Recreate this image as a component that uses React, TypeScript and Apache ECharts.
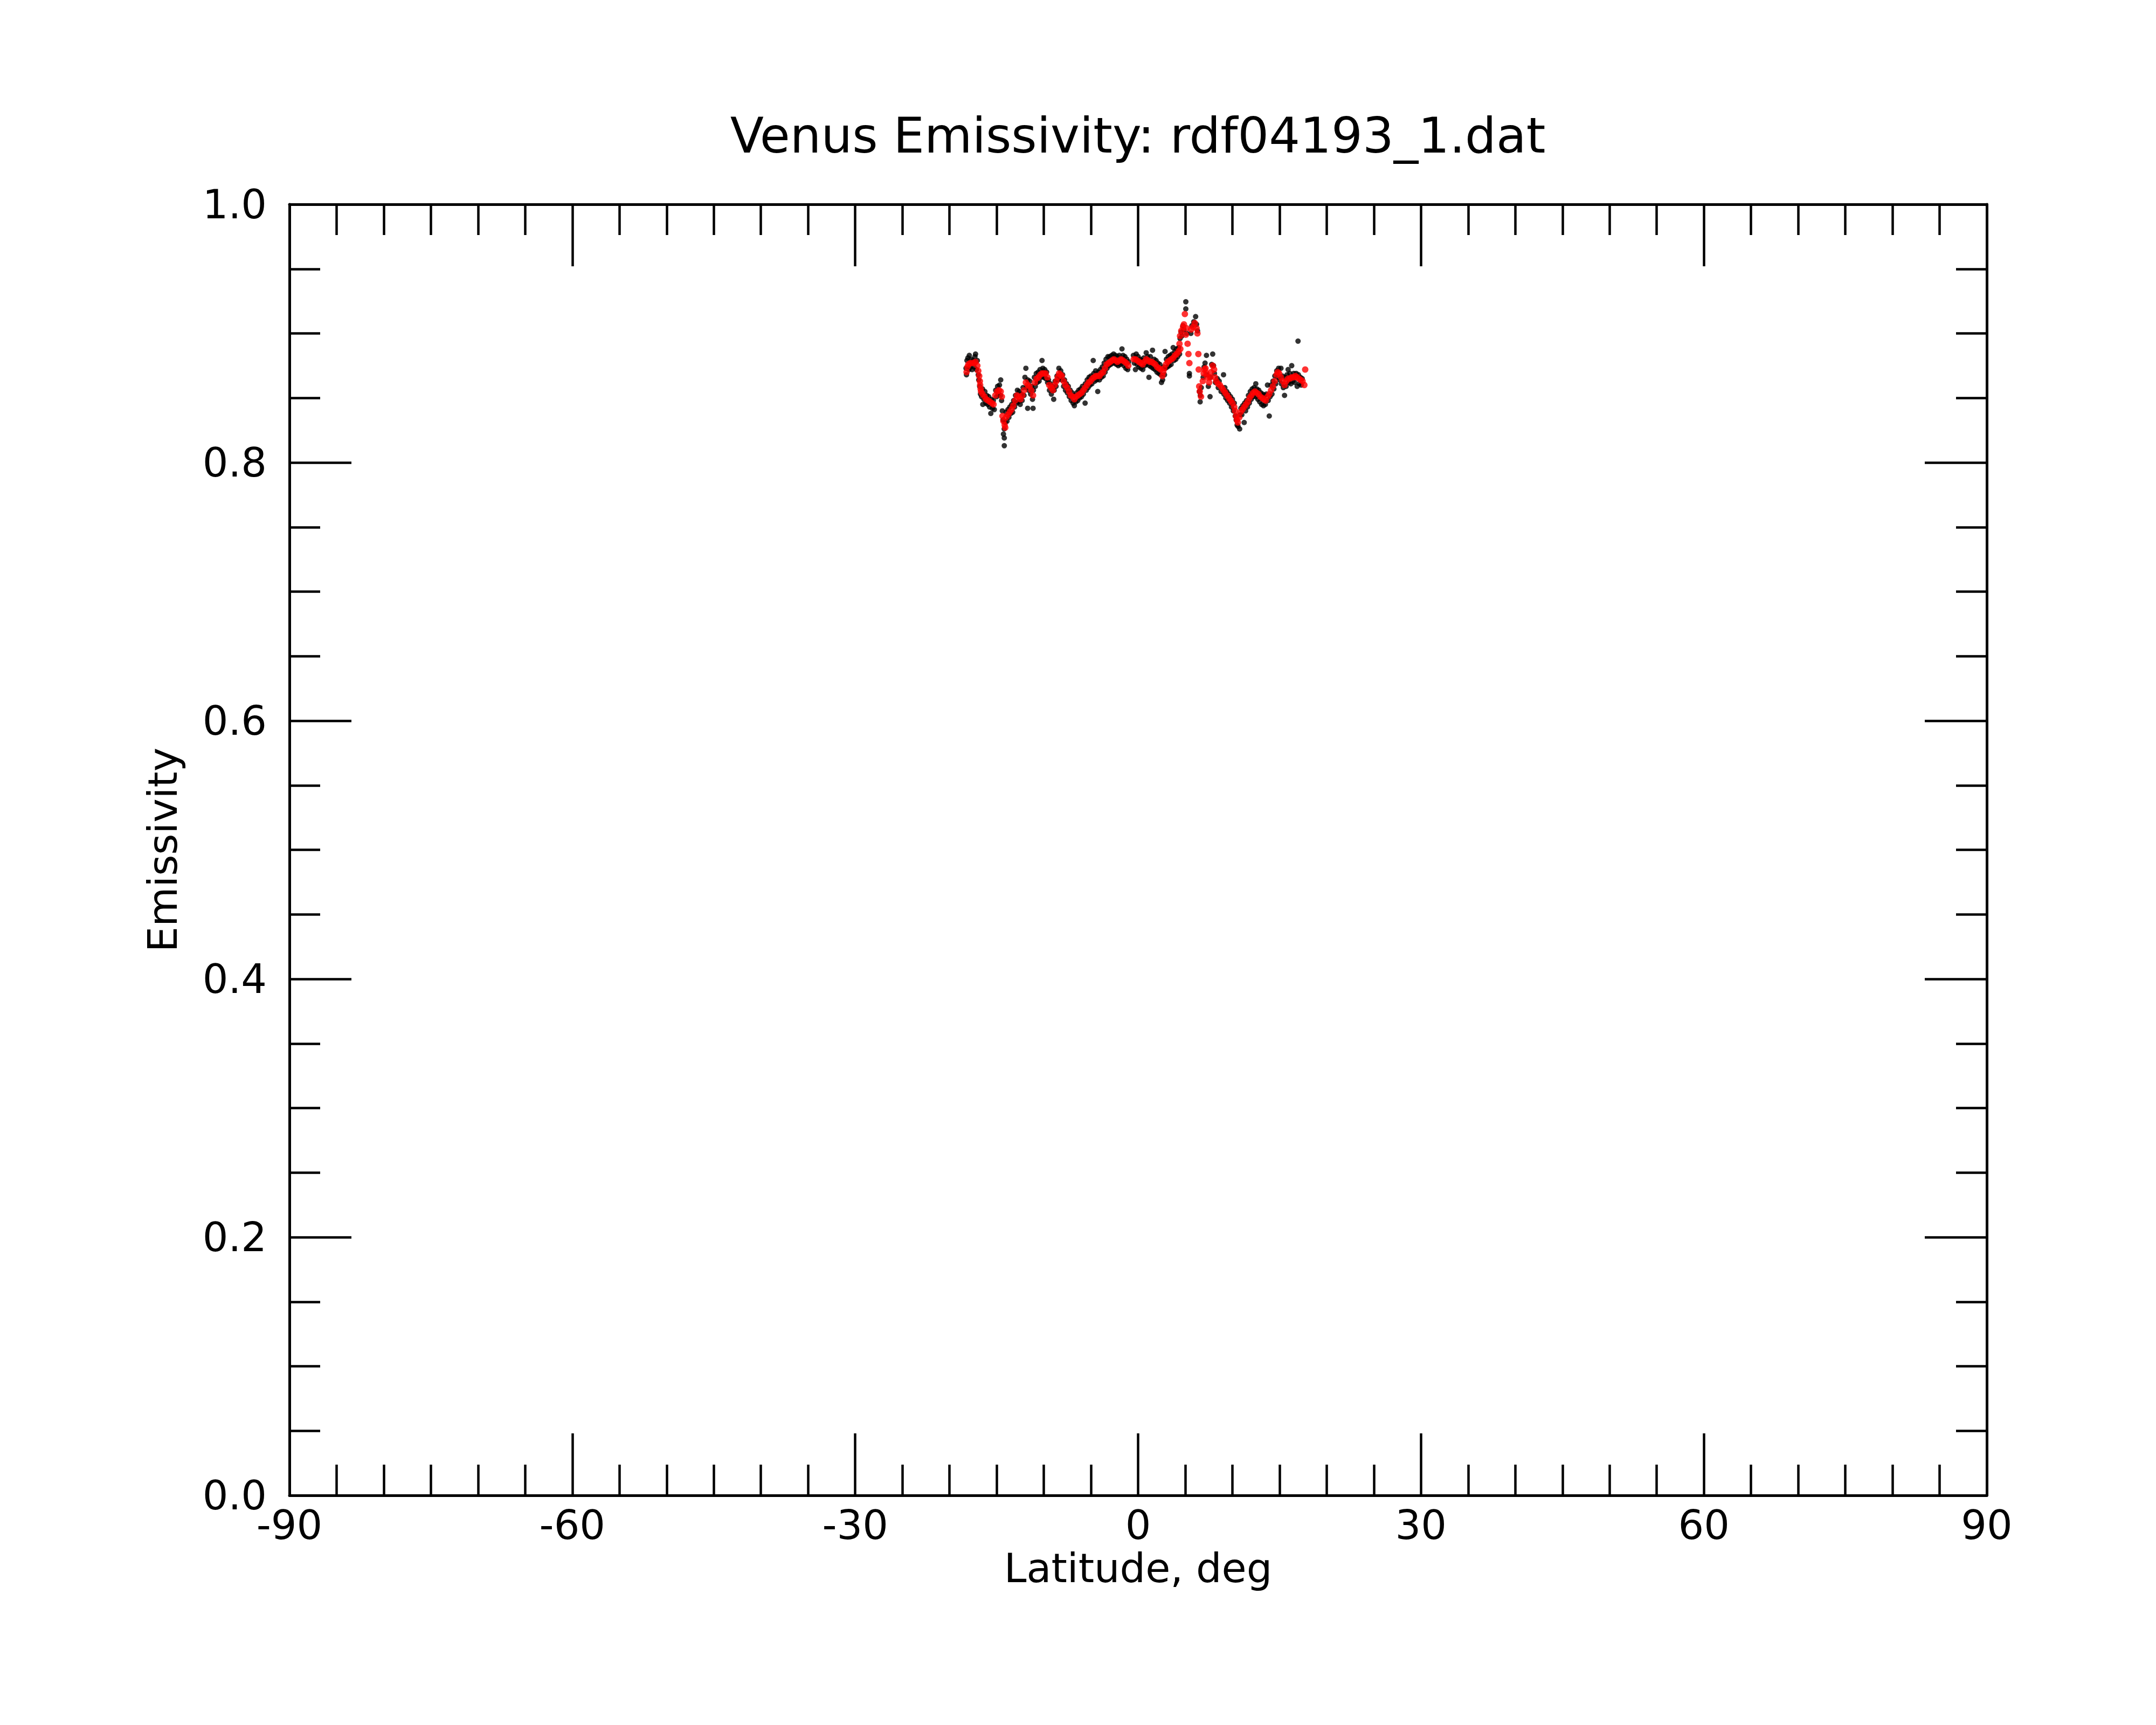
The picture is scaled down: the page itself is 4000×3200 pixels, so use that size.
import React, { useEffect, useRef } from "react";
import * as echarts from "echarts";

const titleText = "Venus Emissivity: rdf04193_1.dat";
const xName = "Latitude, deg";
const yName = "Emissivity";
const xTicks = [-90, -60, -30, 0, 30, 60, 90];
const yTicks = [0.0, 0.2, 0.4, 0.6, 0.8, 1.0];

// raw samples (black)
const rawPoints: [number, number][] = [
  [-18.25,0.873],[-18.2,0.868],[-18.15,0.879],[-18.05,0.881],[-17.95,0.872],[-17.9,0.883],[-17.8,0.874],[-17.7,0.880],[-17.6,0.872],[-17.5,0.879],[-17.4,0.874],[-17.3,0.882],[-17.24,0.884],[-17.15,0.872],[-17.05,0.879],[-16.95,0.868],[-16.9,0.864],[-16.8,0.859],[-16.72,0.853],
  [-16.6,0.851],[-16.5,0.857],[-16.47,0.845],[-16.35,0.849],[-16.25,0.855],[-16.15,0.846],[-16.05,0.852],[-15.95,0.845],[-15.85,0.851],[-15.75,0.843],[-15.62,0.838],[-15.55,0.849],[-15.45,0.842],[-15.35,0.848],[-15.25,0.841],
  [-15.1,0.856],[-15.0,0.851],[-14.9,0.859],[-14.8,0.853],[-14.7,0.860],[-14.6,0.852],[-14.57,0.864],[-14.48,0.848],
  [-14.4,0.840],[-14.33,0.833],[-14.28,0.822],[-14.2,0.826],[-14.19,0.819],[-14.19,0.813],[-14.1,0.831],[-14.0,0.839],[-13.9,0.832],[-13.8,0.841],[-13.7,0.835],[-13.6,0.843],[-13.5,0.838],[-13.4,0.845],[-13.3,0.839],[-13.2,0.848],[-13.1,0.843],[-13.0,0.852],[-12.9,0.846],[-12.8,0.856],[-12.7,0.847],[-12.6,0.855],[-12.5,0.845],[-12.4,0.853],[-12.3,0.848],[-12.2,0.858],[-12.1,0.852],[-12.0,0.866],[-11.9,0.873],[-11.85,0.858],[-11.71,0.842],[-11.7,0.864],[-11.6,0.856],[-11.5,0.863],[-11.4,0.853],[-11.3,0.859],[-11.2,0.849],[-11.14,0.842],[-11.1,0.856],[-11.0,0.866],[-10.9,0.859],[-10.8,0.869],[-10.7,0.862],[-10.6,0.870],[-10.5,0.863],[-10.4,0.872],[-10.3,0.866],[-10.19,0.879],[-10.1,0.873],[-10.0,0.866],[-9.9,0.872],[-9.8,0.865],[-9.7,0.870],[-9.6,0.862],[-9.5,0.864],[-9.4,0.856],[-9.3,0.861],[-9.2,0.853],[-9.1,0.859],[-8.95,0.849],[-8.9,0.856],[-8.8,0.863],[-8.7,0.859],[-8.6,0.867],[-8.5,0.864],[-8.4,0.873],[-8.3,0.866],[-8.2,0.871],[-8.1,0.864],[-8.0,0.868],[-7.9,0.859],[-7.8,0.864],[-7.7,0.856],[-7.6,0.861],[-7.5,0.854],[-7.4,0.859],[-7.3,0.851],[-7.2,0.856],[-7.1,0.848],[-7.0,0.854],[-6.9,0.846],[-6.8,0.852],[-6.76,0.844],[-6.6,0.847],[-6.5,0.854],[-6.4,0.848],[-6.3,0.856],[-6.2,0.850],[-6.1,0.857],[-6.0,0.851],[-5.9,0.859],[-5.8,0.853],[-5.62,0.846],[-5.6,0.861],[-5.5,0.856],[-5.4,0.864],[-5.3,0.858],[-5.2,0.866],[-5.1,0.860],[-5.0,0.867],[-4.9,0.861],[-4.76,0.879],[-4.7,0.869],[-4.6,0.863],[-4.5,0.871],[-4.4,0.864],[-4.28,0.855],[-4.2,0.870],[-4.1,0.864],[-4.0,0.872],[-3.9,0.866],[-3.8,0.874],[-3.7,0.867],[-3.6,0.877],[-3.5,0.870],[-3.4,0.880],[-3.3,0.873],[-3.2,0.882],[-3.1,0.875],[-3.0,0.882],[-2.9,0.876],[-2.8,0.883],[-2.7,0.877],[-2.6,0.884],[-2.5,0.877],[-2.4,0.883],[-2.3,0.876],[-2.2,0.882],[-2.1,0.875],[-2.0,0.883],[-1.9,0.876],[-1.71,0.888],[-1.7,0.877],[-1.6,0.883],[-1.5,0.875],[-1.4,0.882],[-1.3,0.873],[-1.2,0.880],[-1.1,0.872],[-1.0,0.878],
  [-0.5,0.883],[-0.4,0.877],[-0.28,0.872],[-0.2,0.884],[-0.1,0.876],[0.0,0.882],[0.1,0.874],[0.2,0.880],[0.3,0.873],[0.4,0.879],[0.5,0.872],[0.6,0.881],[0.7,0.875],[0.86,0.885],[0.9,0.876],[1.0,0.882],[1.15,0.866],[1.2,0.875],[1.3,0.882],[1.4,0.874],[1.53,0.887],[1.6,0.873],[1.7,0.880],[1.8,0.872],[1.9,0.879],[2.0,0.870],[2.1,0.877],[2.2,0.869],[2.3,0.876],[2.4,0.868],[2.48,0.862],[2.6,0.864],[2.7,0.874],[2.8,0.868],[2.86,0.886],[2.9,0.873],[3.0,0.880],[3.1,0.874],[3.2,0.882],[3.3,0.875],[3.4,0.883],[3.5,0.876],[3.6,0.884],[3.72,0.889],[3.8,0.879],[3.9,0.886],[4.0,0.880],[4.1,0.888],[4.2,0.882],[4.3,0.889],[4.4,0.884],
  [4.45,0.896],[4.55,0.901],[4.65,0.898],[4.75,0.906],[4.85,0.903],[5.06,0.9245],[5.06,0.919],[5.15,0.900],[5.44,0.869],[5.44,0.867],[5.6,0.900],[5.7,0.906],[5.9,0.909],[6.1,0.913],[6.2,0.907],[6.3,0.902],
  [6.5,0.855],[6.58,0.847],[6.6,0.852],[6.7,0.858],[6.9,0.866],[7.0,0.874],[7.1,0.877],[7.25,0.883],[7.3,0.868],[7.45,0.859],[7.63,0.851],[7.7,0.866],[7.8,0.876],[7.91,0.884],[8.0,0.875],[8.1,0.869],[8.2,0.862],[8.4,0.865],[8.5,0.858],[8.6,0.863],[8.8,0.855],[9.06,0.868],[9.1,0.853],[9.2,0.858],[9.3,0.850],[9.4,0.855],[9.5,0.848],[9.6,0.853],[9.7,0.846],[9.8,0.851],[9.9,0.843],[10.0,0.849],[10.1,0.840],[10.2,0.846],[10.3,0.836],[10.4,0.833],[10.5,0.829],[10.6,0.828],[10.77,0.826],[10.8,0.837],[10.9,0.842],[11.0,0.837],[11.1,0.844],[11.25,0.831],[11.3,0.846],[11.4,0.840],[11.5,0.848],[11.6,0.843],[11.7,0.852],[11.8,0.846],[11.9,0.855],[12.0,0.849],[12.1,0.857],[12.2,0.851],[12.3,0.858],[12.48,0.861],[12.5,0.851],[12.6,0.857],[12.7,0.849],[12.8,0.856],[12.9,0.847],[13.0,0.854],[13.1,0.845],[13.2,0.853],[13.3,0.844],[13.4,0.852],[13.5,0.845],[13.6,0.853],[13.72,0.860],[13.8,0.848],[13.91,0.836],[14.0,0.851],[14.1,0.860],[14.2,0.853],[14.3,0.863],[14.4,0.857],[14.5,0.867],[14.6,0.861],[14.7,0.871],[14.8,0.866],[14.9,0.873],[15.0,0.864],[15.15,0.873],[15.2,0.861],[15.3,0.867],[15.4,0.858],[15.53,0.852],[15.6,0.866],[15.7,0.859],[15.8,0.868],[15.91,0.872],[16.0,0.862],[16.1,0.869],[16.2,0.861],[16.29,0.875],[16.4,0.863],[16.5,0.869],[16.6,0.862],[16.77,0.869],[16.87,0.859],[16.96,0.894],[17.0,0.868],[17.1,0.861],[17.2,0.866],[17.3,0.860],[17.4,0.865],
];

// smoothed samples (red)
const smoothPoints: [number, number][] = [
  [-18.19,0.870],[-18.10,0.874],[-18.00,0.876],[-17.81,0.877],[-17.60,0.877],[-17.40,0.877],[-17.24,0.878],[-17.05,0.875],[-16.95,0.871],[-16.85,0.867],[-16.78,0.863],[-16.75,0.860],[-16.70,0.857],[-16.66,0.855],[-16.50,0.853],[-16.28,0.851],[-16.10,0.849],[-15.90,0.848],[-15.70,0.847],[-15.50,0.846],[-15.33,0.845],
  [-15.14,0.852],[-14.95,0.855],[-14.76,0.856],[-14.57,0.855],[-14.45,0.851],
  [-14.38,0.836],[-14.28,0.832],[-14.15,0.829],[-14.09,0.827],
  [-14.00,0.835],[-13.81,0.837],[-13.62,0.839],[-13.43,0.841],[-13.24,0.844],[-13.04,0.848],[-12.85,0.852],[-12.66,0.851],[-12.47,0.849],[-12.28,0.852],[-12.09,0.856],[-11.90,0.862],[-11.71,0.860],[-11.52,0.859],[-11.33,0.856],[-11.14,0.852],[-10.95,0.862],[-10.76,0.865],[-10.57,0.866],[-10.38,0.868],[-10.19,0.869],[-10.00,0.869],[-9.81,0.869],[-9.62,0.866],[-9.43,0.860],[-9.23,0.858],[-9.04,0.856],[-8.85,0.860],[-8.66,0.863],[-8.52,0.866],[-8.38,0.869],[-8.23,0.868],[-8.09,0.867],[-7.90,0.863],[-7.71,0.860],[-7.52,0.858],[-7.33,0.855],[-7.14,0.852],[-6.95,0.851],[-6.76,0.849],[-6.57,0.851],[-6.38,0.852],[-6.19,0.853],[-6.00,0.854],[-5.81,0.856],[-5.62,0.858],[-5.42,0.860],[-5.23,0.862],[-5.04,0.863],[-4.85,0.865],[-4.66,0.866],[-4.47,0.867],[-4.28,0.867],[-4.09,0.867],[-3.90,0.869],[-3.71,0.870],[-3.52,0.873],[-3.33,0.876],[-3.14,0.877],[-2.95,0.878],[-2.76,0.879],[-2.57,0.880],[-2.38,0.879],[-2.19,0.878],[-2.00,0.879],[-1.81,0.880],[-1.61,0.879],[-1.42,0.878],[-1.23,0.877],[-1.04,0.875],
  [-0.47,0.880],[-0.28,0.880],[-0.09,0.879],[0.10,0.878],[0.29,0.877],[0.48,0.876],[0.67,0.878],[0.86,0.880],[1.05,0.879],[1.25,0.878],[1.44,0.878],[1.63,0.877],[1.82,0.876],[2.01,0.874],[2.20,0.873],[2.39,0.872],[2.58,0.867],[2.67,0.870],[2.77,0.873],[2.96,0.876],[3.15,0.878],[3.34,0.879],[3.53,0.880],[3.72,0.881],[3.91,0.883],[4.10,0.884],[4.29,0.886],[4.48,0.888],
  [4.39,0.892],[4.45,0.898],[4.58,0.902],[4.77,0.905],[4.86,0.907],[4.96,0.915],[5.06,0.899],[5.15,0.904],[5.25,0.892],[5.34,0.884],[5.44,0.877],[5.63,0.903],[5.82,0.905],[6.01,0.908],[6.20,0.904],[6.29,0.900],[6.39,0.884],[6.43,0.872],
  [6.48,0.859],[6.54,0.855],[6.67,0.851],[6.86,0.863],[6.96,0.869],[7.05,0.872],[7.15,0.873],[7.24,0.869],[7.34,0.866],[7.53,0.862],[7.63,0.866],[7.72,0.870],[7.91,0.875],[8.06,0.872],[8.14,0.866],[8.29,0.863],[8.48,0.861],[8.67,0.860],[8.87,0.858],[9.06,0.856],[9.25,0.854],[9.44,0.852],[9.63,0.850],[9.82,0.848],[10.01,0.846],[10.20,0.843],[10.29,0.840],[10.39,0.836],[10.48,0.833],[10.58,0.831],[10.73,0.835],[10.87,0.839],[11.06,0.841],[11.25,0.843],[11.44,0.845],[11.63,0.847],[11.82,0.850],[12.01,0.852],[12.20,0.854],[12.39,0.855],[12.58,0.854],[12.77,0.853],[12.96,0.851],[13.15,0.850],[13.34,0.849],[13.53,0.848],[13.72,0.851],[13.91,0.853],[14.10,0.856],[14.29,0.859],[14.48,0.863],[14.68,0.868],[14.81,0.870],[14.96,0.869],[15.15,0.866],[15.34,0.863],[15.53,0.860],[15.72,0.863],[15.91,0.865],[16.10,0.865],[16.29,0.866],[16.49,0.866],[16.68,0.867],[16.87,0.866],[17.06,0.865],[17.25,0.864],[17.44,0.863],[17.63,0.860],[17.72,0.872],
];

const FONT = "DejaVu Sans";
const BLACK = "#000000";

export default function App() {
  const ref = useRef<HTMLDivElement>(null);
  useEffect(() => {
    document.body.style.margin = "0";
    if (!ref.current) return;
    const chart = echarts.init(ref.current, null, { renderer: "svg" });
    const lineStyle = { color: BLACK, width: 5 };
    const tickStyle = { color: BLACK, width: 4.5 };
    const labelStyle = { fontSize: 75, color: BLACK, fontFamily: FONT };
    const xBase = {
      type: "value" as const,
      min: xTicks[0],
      max: xTicks[xTicks.length - 1],
      interval: 30,
      splitLine: { show: false },
      axisLine: { show: true, onZero: false, lineStyle },
      axisTick: { show: true, inside: true, length: 115, lineStyle: tickStyle },
      minorTick: { show: true, splitNumber: 6, length: 57, lineStyle: tickStyle },
      minorSplitLine: { show: false },
    };
    const yBase = {
      type: "value" as const,
      min: yTicks[0],
      max: yTicks[yTicks.length - 1],
      interval: 0.2,
      splitLine: { show: false },
      axisLine: { show: true, onZero: false, lineStyle },
      axisTick: { show: true, inside: true, length: 115, lineStyle: tickStyle },
      minorTick: { show: true, splitNumber: 4, length: 57, lineStyle: tickStyle },
      minorSplitLine: { show: false },
    };
    chart.setOption({
      animation: false,
      backgroundColor: "#ffffff",
      textStyle: { fontFamily: FONT },
      grid: { left: 537, right: 314, top: 379, bottom: 426, containLabel: false },
      graphic: [
        {
          type: "text",
          x: 2111,
          y: 251,
          style: {
            text: titleText,
            fontSize: 91,
            fontFamily: FONT,
            fill: BLACK,
            textAlign: "center",
            textVerticalAlign: "middle",
          },
        },
      ],
      xAxis: [
        {
          ...xBase,
          position: "bottom",
          axisLabel: { ...labelStyle, margin: 17, formatter: (v: number) => String(v) },
          name: xName,
          nameLocation: "middle",
          nameGap: 97,
          nameTextStyle: labelStyle,
        },
        { ...xBase, position: "top", axisLabel: { show: false } },
      ],
      yAxis: [
        {
          ...yBase,
          position: "left",
          axisLabel: { ...labelStyle, margin: 42, formatter: (v: number) => v.toFixed(1) },
          name: yName,
          nameLocation: "middle",
          nameGap: 198,
          nameTextStyle: labelStyle,
        },
        { ...yBase, position: "right", axisLabel: { show: false } },
      ],
      series: [
        {
          type: "scatter",
          xAxisIndex: 0,
          yAxisIndex: 0,
          data: rawPoints,
          symbol: "circle",
          symbolSize: 10,
          itemStyle: { color: BLACK },
          silent: true,
        },
        {
          type: "scatter",
          xAxisIndex: 0,
          yAxisIndex: 0,
          data: smoothPoints,
          symbol: "circle",
          symbolSize: 12,
          itemStyle: { color: "#ff0000" },
          silent: true,
        },
      ],
    });
    return () => chart.dispose();
  }, []);
  return <div ref={ref} style={{ width: 4000, height: 3200 }} />;
}
